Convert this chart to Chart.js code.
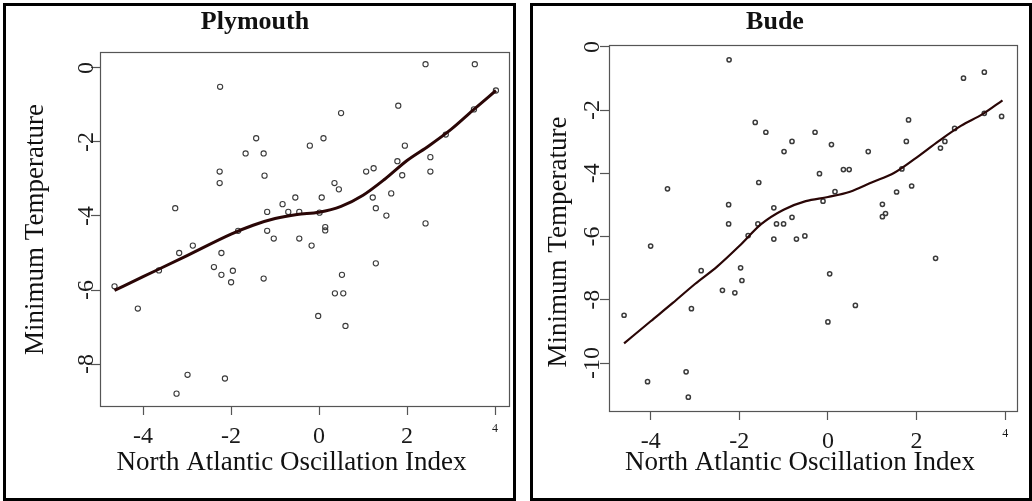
<!DOCTYPE html>
<html><head><meta charset="utf-8">
<script src="https://cdn.jsdelivr.net/npm/chart.js@4/dist/chart.umd.min.js"></script>
<style>
html,body{margin:0;padding:0;background:#fff;}
#wrap{position:relative;width:1032px;height:501px;overflow:hidden;background:#fff}
canvas{position:absolute;top:0}
#c1{left:0}
#c2{left:532px}
.frame{position:absolute;border:3px solid #000;box-sizing:border-box}
</style></head><body>
<div id="wrap">
<div class="frame" style="left:3px;top:3px;width:513px;height:498px"></div>
<div class="frame" style="left:530px;top:3px;width:502px;height:498px"></div>
<canvas id="c1" width="580" height="501" style="width:580px;height:501px"></canvas>
<canvas id="c2" width="554" height="501" style="width:554px;height:501px"></canvas>
</div>
<script>
// ---------- data ----------
const titles = ['Plymouth', 'Bude'];
const xTitle = 'North Atlantic Oscillation Index';
const yTitle = 'Minimum Temperature';
const xTicks = [-4, -2, 0, 2, 4];
const xTickLabels = ['-4', '-2', '0', '2', '4'];
const plymYTicks = [-8, -6, -4, -2, 0];
const plymYTickLabels = ['-8', '-6', '-4', '-2', '0'];
const budeYTicks = [-10, -8, -6, -4, -2, 0];
const budeYTickLabels = ['-10', '-8', '-6', '-4', '-2', '0'];

const plymX = [2.42,3.54,-2.25,4.02,1.80,0.50,3.52,2.88,-1.43,0.10,-0.21,1.95,-1.67,-1.26,2.53,1.78,-2.26,1.07,1.24,2.53,1.89,-1.24,-2.26,0.35,0.45,1.64,-0.54,0.06,1.22,-0.83,-3.27,1.29,-1.18,-0.70,-0.45,0.01,1.53,2.42,-1.84,-1.18,0.14,0.14,-1.03,-0.45,-0.17,-2.87,-3.18,-2.22,-3.64,-2.39,-1.96,-2.22,-2.00,-1.26,-4.65,-4.12,-2.99,-2.14,-3.24,1.29,0.52,0.36,0.55,-0.02,0.60];
const plymY = [0.10,0.10,-0.51,-0.61,-1.02,-1.22,-1.12,-1.80,-1.90,-1.90,-2.10,-2.10,-2.31,-2.31,-2.41,-2.52,-2.80,-2.80,-2.71,-2.80,-2.90,-2.91,-3.11,-3.11,-3.28,-3.39,-3.50,-3.50,-3.50,-3.68,-3.79,-3.79,-3.89,-3.89,-3.89,-3.91,-3.99,-4.20,-4.40,-4.40,-4.30,-4.39,-4.61,-4.61,-4.80,-4.80,-5.00,-5.00,-5.47,-5.38,-5.48,-5.59,-5.79,-5.69,-5.90,-6.50,-8.29,-8.39,-8.80,-5.28,-5.59,-6.09,-6.09,-6.70,-6.97];
const plymLineX = [-4.65,-4,-3,-2,-1.5,-1,-0.5,0,0.5,1,1.5,2,2.5,3,3.5,4.02];
const plymLineY = [-6.01,-5.64,-5.07,-4.49,-4.25,-4.07,-3.96,-3.9,-3.74,-3.44,-3.0,-2.5,-2.1,-1.66,-1.14,-0.61];

const budeX = [-2.23,-1.64,-1.40,-0.81,-0.99,-3.62,-1.56,-2.24,-1.22,-2.24,-1.58,-1.16,-1.00,-0.81,-0.29,0.08,-0.19,0.91,0.35,0.48,0.16,-0.11,1.82,1.77,1.55,1.89,1.23,1.30,1.23,3.06,3.53,3.92,3.53,2.86,2.54,2.64,1.67,-1.22,-0.71,-0.52,-1.80,-4.00,-2.86,-1.97,-1.94,-2.38,-2.10,-3.08,-4.60,-3.20,-4.07,-3.15,0.04,0.62,0.00,2.43];
const budeY = [-0.41,-2.39,-2.70,-2.99,-3.31,-4.49,-4.29,-4.99,-5.09,-5.60,-5.60,-5.60,-5.60,-5.39,-2.70,-3.09,-4.01,-3.31,-3.88,-3.88,-4.58,-4.88,-2.31,-2.99,-4.59,-4.40,-4.98,-5.27,-5.37,-0.99,-0.80,-2.20,-2.10,-2.58,-3.20,-2.99,-3.86,-6.08,-6.08,-5.98,-5.97,-6.30,-7.08,-6.99,-7.39,-7.70,-7.78,-8.28,-8.49,-10.28,-10.59,-11.08,-7.18,-8.18,-8.70,-6.69];
const budeLineX = [-4.6,-4,-3.5,-3,-2.5,-2,-1.5,-1,-0.5,0,0.5,1,1.5,2,2.5,3,3.5,3.94];
const budeLineY = [-9.38,-8.68,-8.1,-7.5,-6.95,-6.3,-5.6,-5.15,-4.88,-4.75,-4.58,-4.28,-3.98,-3.5,-2.98,-2.5,-2.12,-1.69];

// ---------- drawing ----------
const FONT = '"Liberation Serif", "Times New Roman", serif';

function pts(xs, ys) { return xs.map((x, i) => ({x: x, y: ys[i]})); }

const boxPlugin = {
  id: 'boxAndYLabels',
  afterDraw(chart) {
    const o = chart.options.plugins.boxAndYLabels;
    const ctx = chart.ctx, a = chart.chartArea, s = chart.scales.y;
    ctx.save();
    ctx.strokeStyle = '#555';
    ctx.lineWidth = 1.2;
    ctx.strokeRect(a.left + 0.5, a.top + 0.5, a.right - a.left - 1, a.bottom - a.top - 1);
    ctx.fillStyle = '#1a1a1a';
    ctx.font = o.size + 'px ' + FONT;
    ctx.textAlign = 'center';
    ctx.textBaseline = 'middle';
    o.ticks.forEach((v, i) => {
      const y = s.getPixelForValue(v);
      ctx.save();
      ctx.translate(o.labelX, y);
      ctx.rotate(-Math.PI / 2);
      ctx.fillText(o.labels[i], 0, 0);
      ctx.restore();
    });
    ctx.restore();
  }
};

function makeChart(id, cfg) {
  return new Chart(document.getElementById(id), {
    data: {
      datasets: [
        {type: 'scatter', data: pts(cfg.px, cfg.py), pointStyle: 'circle',
         pointRadius: cfg.r, borderColor: '#3a3a3a', backgroundColor: 'rgba(0,0,0,0)',
         borderWidth: cfg.pw, order: 2},
        {type: 'line', data: pts(cfg.lx, cfg.ly), borderColor: '#2a0606',
         borderWidth: cfg.lw, pointRadius: 0, fill: false, cubicInterpolationMode: 'monotone', order: 1}
      ]
    },
    options: {
      responsive: false, animation: false, events: [],
      layout: {padding: {left: 0, right: cfg.padRight, top: 0, bottom: 0}},
      plugins: {
        legend: {display: false}, tooltip: {enabled: false},
        title: {display: true, text: cfg.title, color: '#111',
                font: {family: FONT, size: 26, weight: 'bold'},
                padding: {top: 6.4, bottom: cfg.titlePadBottom}},
        boxAndYLabels: {ticks: cfg.yTicks, labels: cfg.yLabels, labelX: cfg.yLabelX, size: 24}
      },
      scales: {
        x: {type: 'linear', position: 'bottom', min: cfg.xmin, max: cfg.xmax,
            afterBuildTicks: s => { s.ticks = xTicks.map(v => ({value: v})); },
            afterFit: s => { s.height = cfg.xh; },
            border: {display: false},
            grid: {drawOnChartArea: false, drawTicks: true, tickLength: 8, color: '#555', tickColor: '#555', tickWidth: 1.2},
            ticks: {autoSkip: false, maxRotation: 0, padding: 7, color: '#1a1a1a',
                    font: c => (c.tick && c.tick.value === 4) ? {family: FONT, size: 12} : {family: FONT, size: 24},
                    callback: (v) => xTickLabels[xTicks.indexOf(v)]},
            title: {display: true, text: xTitle + '    ', color: '#111',
                    font: {family: FONT, size: 27}, padding: {top: 0, bottom: 21.8}}
        },
        y: {type: 'linear', position: 'left', min: cfg.ymin, max: cfg.ymax,
            afterBuildTicks: s => { s.ticks = cfg.yTicks.map(v => ({value: v})); },
            afterFit: s => { s.width = cfg.yw; },
            border: {display: false},
            grid: {drawOnChartArea: false, drawTicks: true, tickLength: 9, color: '#555', tickColor: '#555', tickWidth: 1.2},
            ticks: {display: false},
            title: {display: true, text: cfg.yTitleText, color: '#111',
                    font: {family: FONT, size: 27}, padding: {top: cfg.yTitlePad, bottom: 0}}
        }
      }
    },
    plugins: [boxPlugin]
  });
}

makeChart('c1', {
  title: titles[0], px: plymX, py: plymY, lx: plymLineX, ly: plymLineY,
  r: 2.6, pw: 1.1, lw: 3,
  xmin: -4.98, xmax: 4.34, ymin: -9.16, ymax: 0.43,
  yTicks: plymYTicks, yLabels: plymYTickLabels, yLabelX: 86.5,
  padRight: 70, titlePadBottom: 14.4, xh: 94, yw: 100, yTitlePad: 19.8, yTitleText: yTitle
});
makeChart('c2', {
  title: titles[1], px: budeX, py: budeY, lx: budeLineX, ly: budeLineY,
  r: 2.1, pw: 1.5, lw: 2.2,
  xmin: -4.94, xmax: 4.29, ymin: -11.55, ymax: 0.06,
  yTicks: budeYTicks, yLabels: budeYTickLabels, yLabelX: 60.5,
  padRight: 68, titlePadBottom: 7.4, xh: 89, yw: 77, yTitlePad: 10.8, yTitleText: yTitle + '    '
});
</script>
</body></html>
